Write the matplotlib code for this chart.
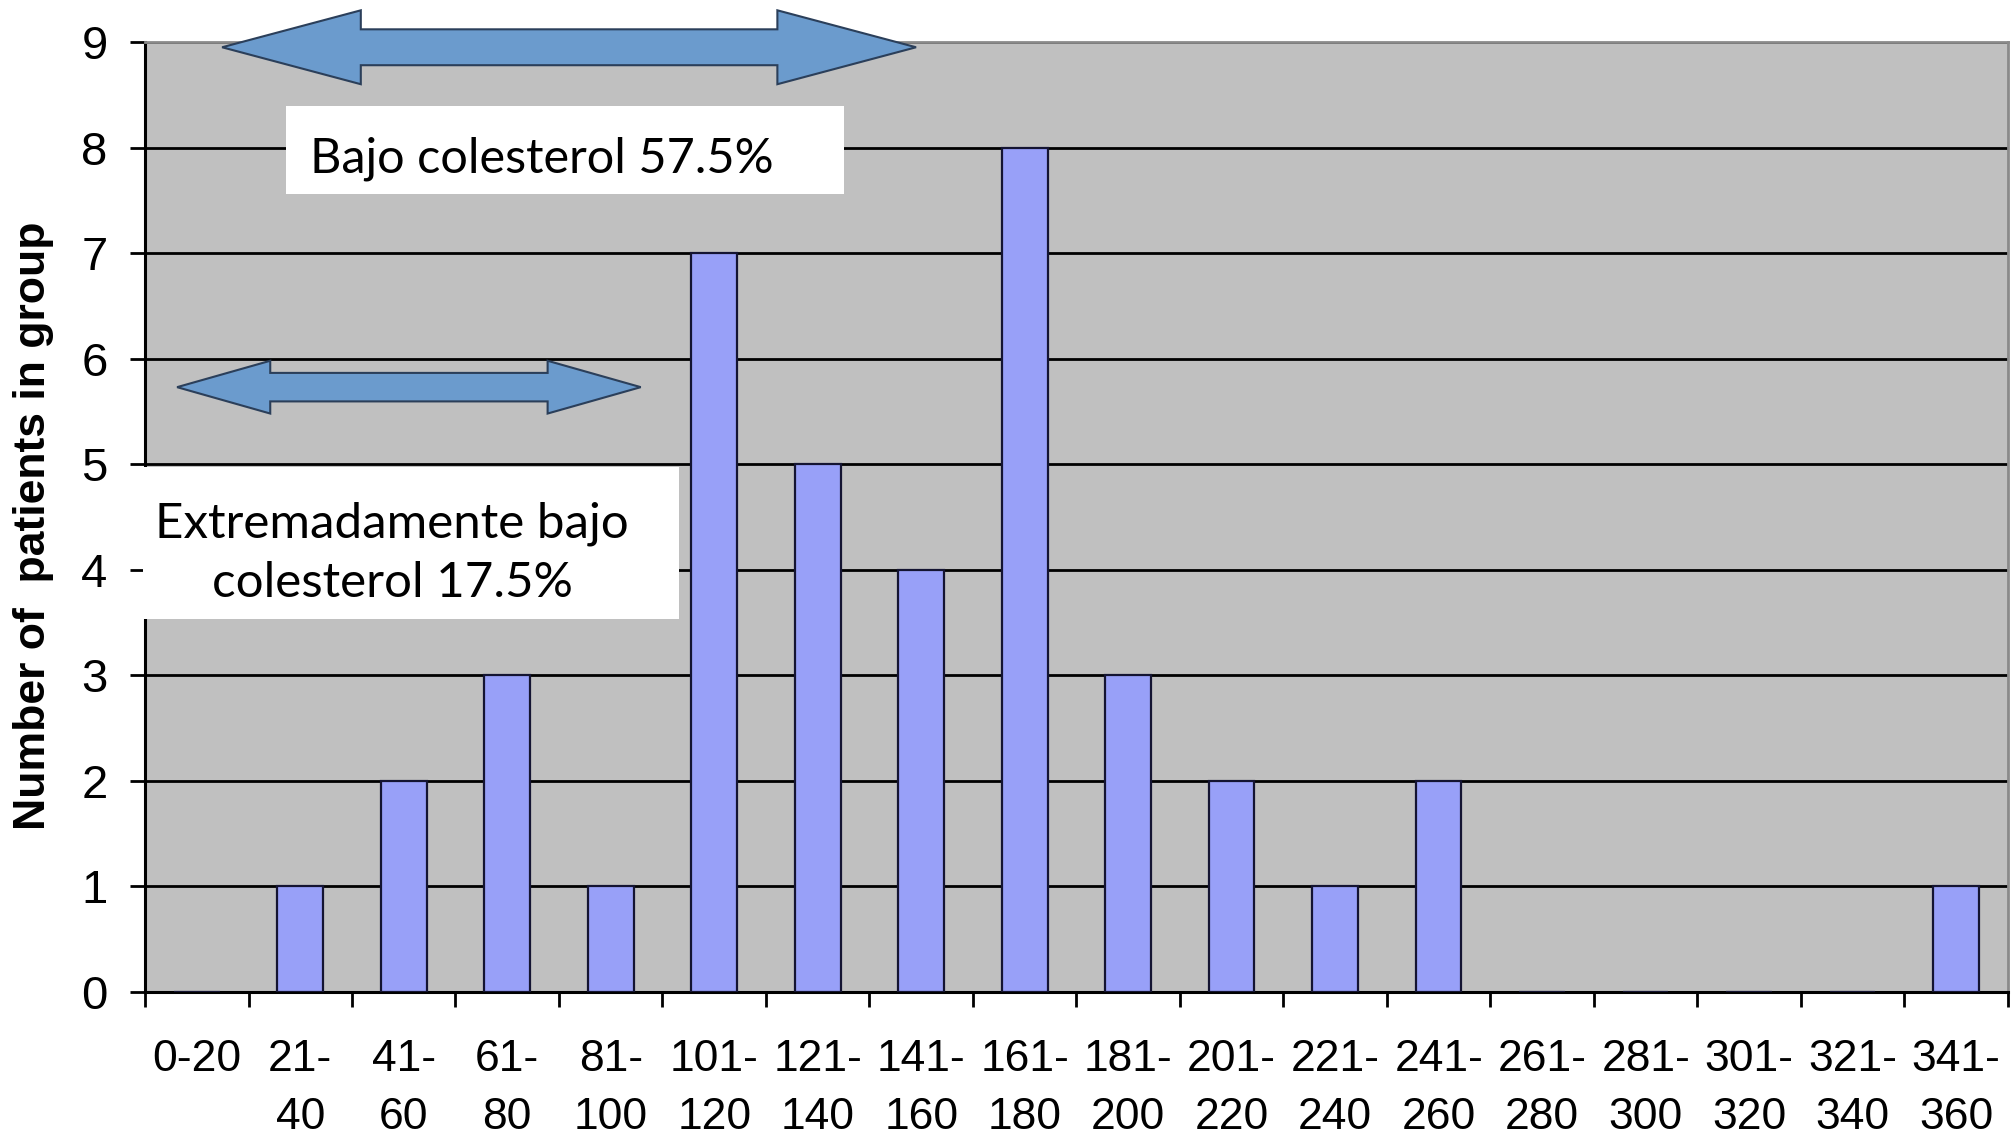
import numpy as np
import matplotlib
matplotlib.use('Agg')
import matplotlib.pyplot as plt
from matplotlib.patches import Polygon, Rectangle

# Cholesterol ranges (mg/dL) and patient counts
bins = ['0-20', '21-\n40', '41-\n60', '61-\n80', '81-\n100', '101-\n120', '121-\n140',
        '141-\n160', '161-\n180', '181-\n200', '201-\n220', '221-\n240', '241-\n260',
        '261-\n280', '281-\n300', '301-\n320', '321-\n340', '341-\n360']
counts = [0, 1, 2, 3, 1, 7, 5, 4, 8, 3, 2, 1, 2, 0, 0, 0, 0, 1]
y_ticks = list(range(0, 10))

plt.rcParams['font.family'] = ['Liberation Sans', 'DejaVu Sans']

fig = plt.figure(figsize=(20.14, 11.41), dpi=100)
ax = fig.add_axes([0.072, 0.1306, 0.925, 0.8326])

x = np.arange(len(bins))
ax.set_facecolor('#C0C0C0')
ax.bar(x, counts, width=0.44, color='#98A0F8', edgecolor='#141432', linewidth=1.6, zorder=3)

ax.set_xlim(-0.5, len(bins) - 0.5)
ax.set_ylim(0, 9)
ax.set_yticks(y_ticks)
ax.yaxis.grid(True, color='black', linewidth=2.0, zorder=1)
ax.set_axisbelow(True)

# labels at category centres, tick marks at category boundaries
ax.set_xticks(x)
ax.set_xticklabels(bins, fontsize=32, va='top', linespacing=1.52)
ax.set_yticklabels([str(v) for v in y_ticks], fontsize=34)
ax.set_xticks(np.arange(-0.5, len(bins)), minor=True)
ax.tick_params(axis='x', which='major', length=0, pad=34)
ax.tick_params(axis='x', which='minor', length=11, width=2, direction='out')
ax.tick_params(axis='y', length=11, width=2, pad=16)

for side in ['left', 'bottom']:
    ax.spines[side].set_color('black')
    ax.spines[side].set_linewidth(2.2)
for side in ['top', 'right']:
    ax.spines[side].set_color('#8A8A8A')
    ax.spines[side].set_linewidth(2.0)

fig.text(34 / 2014, 1 - 526 / 1141, 'Number of  patients in group', rotation=90,
         ha='center', va='center', fontsize=32, fontweight='bold')


def double_arrow(ax, x0, x1, y, head_len, head_half, shaft_half):
    pts = [(x0, y), (x0 + head_len, y + head_half), (x0 + head_len, y + shaft_half),
           (x1 - head_len, y + shaft_half), (x1 - head_len, y + head_half), (x1, y),
           (x1 - head_len, y - head_half), (x1 - head_len, y - shaft_half),
           (x0 + head_len, y - shaft_half), (x0 + head_len, y - head_half)]
    ax.add_patch(Polygon(pts, closed=True, facecolor='#6B9BCD', edgecolor='#2B3F5A',
                         linewidth=1.5, zorder=6, clip_on=False))


double_arrow(ax, 0.245, 6.95, 8.95, 1.34, 0.35, 0.17)
double_arrow(ax, -0.19, 4.29, 5.73, 0.90, 0.25, 0.135)

# white label boxes
box_font = ['Lato', 'DejaVu Sans']
ax.add_patch(Rectangle((0.862, 7.56), 6.254 - 0.862, 8.39 - 7.56, facecolor='white',
                       edgecolor='none', zorder=4, clip_on=False))
ax.text(3.33, 7.89, 'Bajo colesterol 57.5%', ha='center', va='center',
        fontsize=35, family=box_font, zorder=5)

ax.add_patch(Rectangle((-0.52, 3.53), 4.66 + 0.52, 4.97 - 3.53, facecolor='white',
                       edgecolor='none', zorder=4, clip_on=False))
ax.text(1.89, 4.16, 'Extremadamente bajo\ncolesterol 17.5%', ha='center', va='center',
        fontsize=35.5, family=box_font, linespacing=1.42, zorder=5)

fig.savefig('out.png', dpi=100)
